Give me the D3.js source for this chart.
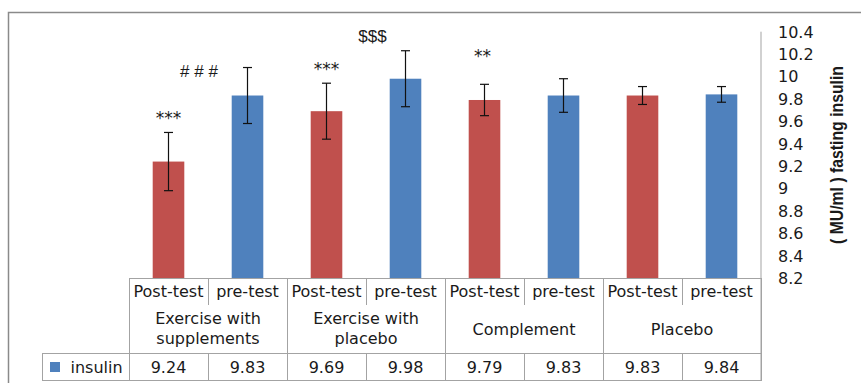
<!DOCTYPE html>
<html>
<head>
<meta charset="utf-8">
<script src="https://cdn.jsdelivr.net/npm/d3@7"></script>
<style>
  html, body { margin: 0; padding: 0; background: #fff; }
  svg { display: block; }
  text { font-family: "DejaVu Sans", sans-serif; fill: #1a1a1a; }
</style>
</head>
<body>
<svg id="chart" width="861" height="383"></svg>
<script>
// Fasting insulin by group and test phase
const groups = [["Exercise with", "supplements"], ["Exercise with", "placebo"], ["Complement"], ["Placebo"]];
const phases = ["Post-test", "pre-test"];
const insulin = [9.24, 9.83, 9.69, 9.98, 9.79, 9.83, 9.83, 9.84];
const insulinSD = [0.26, 0.25, 0.25, 0.25, 0.14, 0.15, 0.08, 0.07];
const yTicks = [8.2, 8.4, 8.6, 8.8, 9, 9.2, 9.4, 9.6, 9.8, 10, 10.2, 10.4];
const marks = ["***", "# # #", "***", "$$$", "**", "", "", ""];
const seriesName = "insulin";
const axisTitle = "( MU/ml ) fasting insulin";

const phaseColor = { "Post-test": "#C0504D", "pre-test": "#4F81BD" };
const gridColor = "#a3a3a3";

const svg = d3.select("#chart");

// outer chart frame
svg.append("rect")
  .attr("x", 8.5).attr("y", 12.5).attr("width", 900).attr("height", 400)
  .attr("fill", "none").attr("stroke", "#8a8a8a").attr("stroke-width", 1.5);

const left = 129, right = 761, plotTop = 31.7, plotBottom = 278;
const rowDiv = 305, rowLine = 353.5, tableBottom = 380.5, legendLeft = 42;

const cells = insulin.map((v, i) => ({
  i, value: v, sd: insulinSD[i],
  phase: phases[i % 2], group: Math.floor(i / 2), mark: marks[i]
}));

const x = d3.scaleBand().domain(d3.range(insulin.length))
  .range([left, right]).paddingInner(0.6).paddingOuter(0.3);
const step = x.step();
const y = d3.scaleLinear().domain([8.2, 10.4]).range([plotBottom, plotTop]);

// bars
svg.append("g").selectAll("rect").data(cells).join("rect")
  .attr("x", d => x(d.i)).attr("width", x.bandwidth())
  .attr("y", d => y(d.value)).attr("height", d => y(8.2) - y(d.value))
  .attr("fill", d => phaseColor[d.phase]);

// error bars
const eb = svg.append("g").attr("stroke", "#111").attr("stroke-width", 1.2);
cells.forEach(d => {
  const cx = x(d.i) + x.bandwidth() / 2;
  const y1 = y(d.value + d.sd), y2 = y(d.value - d.sd);
  eb.append("line").attr("x1", cx).attr("x2", cx).attr("y1", y1).attr("y2", y2);
  eb.append("line").attr("x1", cx - 4.5).attr("x2", cx + 4.5).attr("y1", y1).attr("y2", y1);
  eb.append("line").attr("x1", cx - 4.5).attr("x2", cx + 4.5).attr("y1", y2).attr("y2", y2);
});

// significance marks above the error bars
const markStyle = {
  "***": { font: "DejaVu Sans", size: 17, dx: 0, lift: 8.5 },
  "**": { font: "DejaVu Sans", size: 17, dx: -2, lift: 22 },
  "# # #": { font: "Liberation Sans", size: 17, dx: -48.5, lift: -9 },
  "$$$": { font: "Liberation Sans", size: 17, dx: -33, lift: 8.5 }
};
svg.append("g").selectAll("text").data(cells.filter(d => d.mark)).join("text")
  .attr("x", d => x(d.i) + x.bandwidth() / 2 + markStyle[d.mark].dx)
  .attr("y", d => y(d.value + d.sd) - markStyle[d.mark].lift)
  .attr("text-anchor", "middle")
  .style("font-family", d => `"${markStyle[d.mark].font}", sans-serif`)
  .style("font-size", d => markStyle[d.mark].size + "px")
  .text(d => d.mark);

// value axis on the right
svg.append("line").attr("x1", right).attr("x2", right)
  .attr("y1", plotTop).attr("y2", tableBottom)
  .attr("stroke", gridColor).attr("stroke-width", 1);
svg.append("g").selectAll("text").data(yTicks).join("text")
  .attr("x", 778).attr("y", d => y(d) + 6)
  .style("font-size", "16px")
  .text(d => d3.format("")(+d.toFixed(1)));

svg.append("text")
  .attr("transform", `translate(843, 155) rotate(-90)`)
  .attr("text-anchor", "middle")
  .attr("textLength", 178).attr("lengthAdjust", "spacingAndGlyphs")
  .style("font-family", '"Liberation Sans", sans-serif')
  .style("font-weight", "bold").style("font-size", "18px")
  .text(axisTitle);

// data table under the plot
const tbl = svg.append("g").attr("stroke", gridColor).attr("stroke-width", 1).attr("shape-rendering", "crispEdges");
tbl.append("line").attr("x1", left).attr("x2", right).attr("y1", plotBottom).attr("y2", plotBottom);
tbl.append("line").attr("x1", legendLeft).attr("x2", right).attr("y1", rowLine).attr("y2", rowLine);
tbl.append("line").attr("x1", legendLeft).attr("x2", right).attr("y1", tableBottom).attr("y2", tableBottom);
tbl.append("line").attr("x1", legendLeft).attr("x2", legendLeft).attr("y1", rowLine).attr("y2", tableBottom);
d3.range(insulin.length + 1).forEach(k => {
  const xx = left + k * step;
  const major = k % 2 === 0;
  tbl.append("line").attr("x1", xx).attr("x2", xx)
    .attr("y1", plotBottom).attr("y2", major ? tableBottom : rowDiv);
  if (!major) tbl.append("line").attr("x1", xx).attr("x2", xx).attr("y1", rowLine).attr("y2", tableBottom);
});

const tt = svg.append("g").style("font-size", "16px").attr("text-anchor", "middle");
cells.forEach(d => {
  const cx = x(d.i) + x.bandwidth() / 2;
  tt.append("text").attr("x", cx).attr("y", 297).text(d.phase);
  tt.append("text").attr("x", cx).attr("y", 372.5).text(d3.format(".2f")(d.value));
});
groups.forEach((lines, g) => {
  const cx = left + (g * 2 + 1) * step;
  const base = lines.length === 1 ? 335 : 323.5;
  lines.forEach((ln, j) => {
    tt.append("text").attr("x", cx).attr("y", base + j * 20.7).text(ln);
  });
});

// legend key in the table
svg.append("rect").attr("x", 50).attr("y", 362).attr("width", 10).attr("height", 10)
  .attr("fill", phaseColor["pre-test"]);
svg.append("text").attr("x", 70.5).attr("y", 372.5).style("font-size", "16px").text(seriesName);
</script>
</body>
</html>
